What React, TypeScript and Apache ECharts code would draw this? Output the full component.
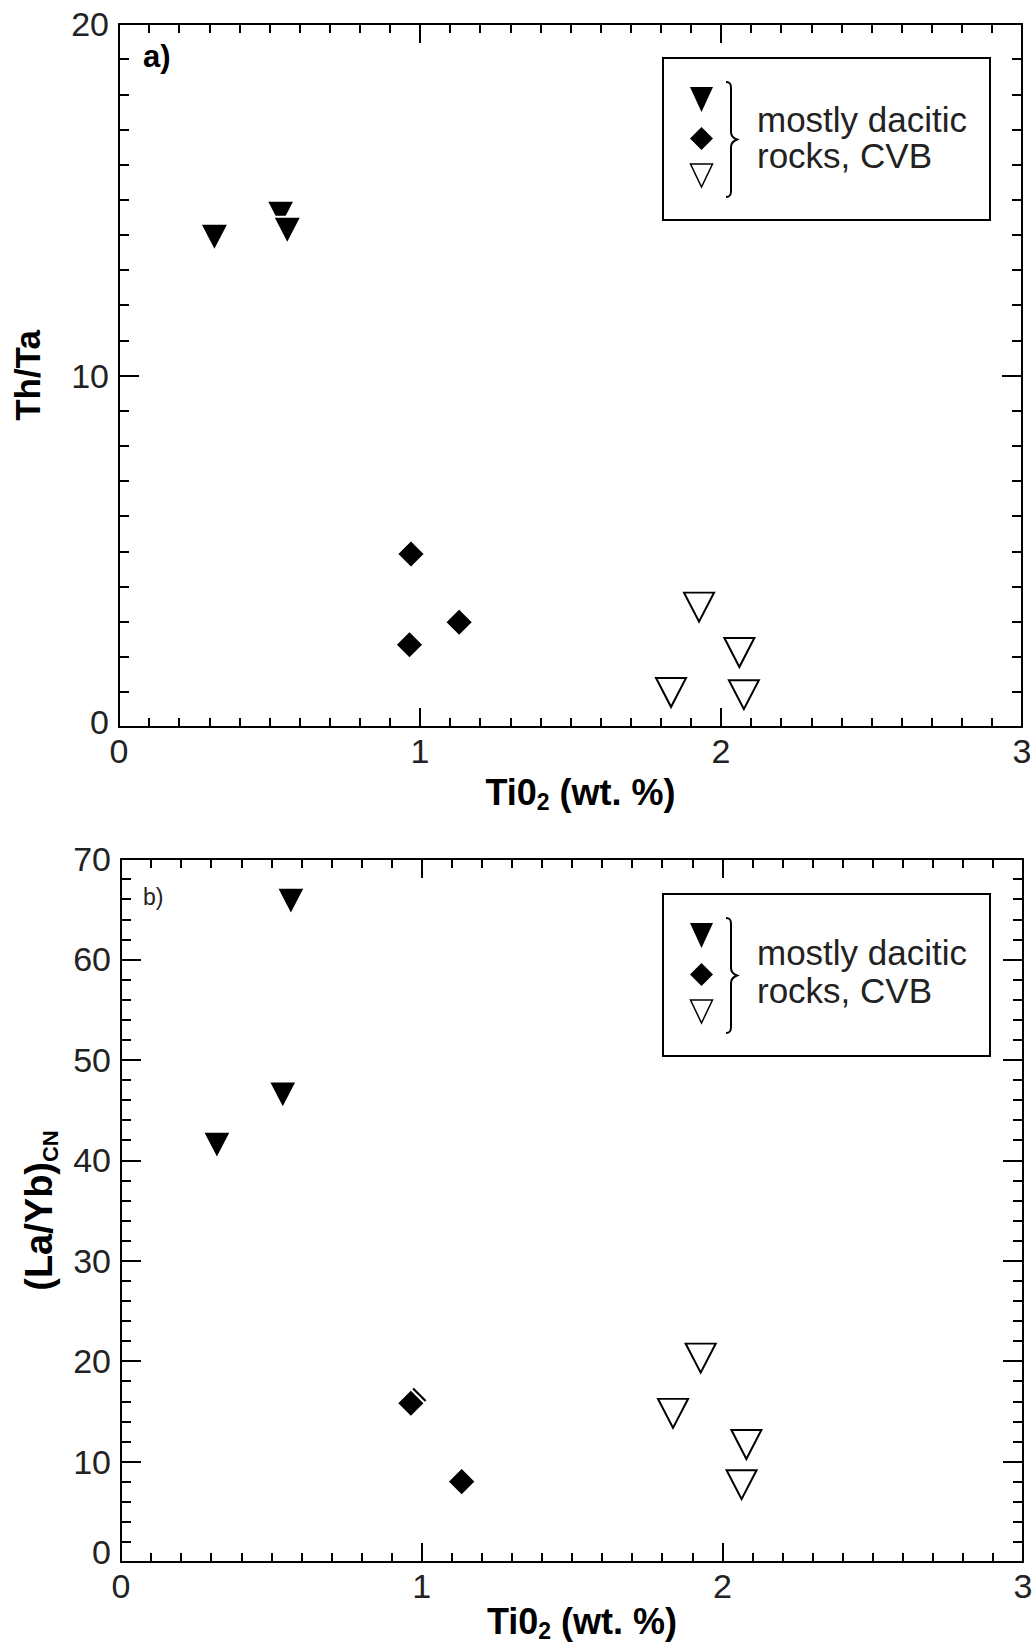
import React, { useEffect, useRef } from "react";
import * as echarts from "echarts";

const FONT = '"Liberation Sans", Arial, Helvetica, sans-serif';

// ---- Panel a): Th/Ta vs TiO2 ----
const thTaFilledTriangles = [[0.317, 13.93], [0.537, 14.59], [0.559, 14.13]];
const thTaDiamonds = [[0.970, 4.92], [0.965, 2.34], [1.130, 2.98]];
const thTaOpenTriangles = [[1.927, 3.41], [2.061, 2.12], [1.834, 0.98], [2.076, 0.92]];

// ---- Panel b): (La/Yb)CN vs TiO2 ----
const laYbFilledTriangles = [[0.565, 65.8], [0.538, 46.5], [0.319, 41.5]];
const laYbDiamonds = [[0.974, 16.1], [0.964, 15.8], [1.133, 8.0]];
const laYbOpenTriangles = [[1.928, 20.3], [1.836, 14.8], [2.080, 11.7], [2.064, 7.7]];

// ---- axes / texts ----
const xRange = [0, 3];
const xStep = 1;
const yRangeA = [0, 20];
const yRangeB = [0, 70];
const yStep = 10;
const legendLines = ["mostly dacitic", "rocks, CVB"];
const panelLabels = ["a)", "b)"];
const seriesNames = ["filled triangles", "filled diamonds", "open triangles"];

echarts.graphic.registerShape(
  "brace",
  echarts.graphic.extendPath(
    "M0,0 C4,0 5,2 5,6 L5,50 C5,54 7,56 11,57.5 C7,59 5,61 5,65 L5,109 C5,113 4,115 0,115",
    {}
  )
);

const LINE = { color: "#000", width: 2 };
const TICK_FONT = 34;

function xAxes(gridIndex: number, nameGap: number) {
  const common = {
    gridIndex,
    type: "value",
    min: xRange[0],
    max: xRange[1],
    interval: xStep,
    splitLine: { show: false },
    minorSplitLine: { show: false },
    axisLine: { show: true, onZero: false, lineStyle: LINE },
    axisTick: { show: true, inside: true, length: 19, lineStyle: LINE },
    minorTick: { show: true, splitNumber: 10, length: 9, lineStyle: LINE },
  };
  return [
    {
      ...common,
      position: "bottom",
      axisLabel: { show: true, margin: 7, fontSize: TICK_FONT, color: "#222", fontFamily: FONT },
      name: "{t|Ti0}{s|2}{t| (wt. %)}",
      nameLocation: "middle",
      nameGap,
      nameMoveOverlap: false,
      nameTextStyle: {
        padding: [0, 0, 0, 20],
        rich: {
          t: { fontSize: 36, fontWeight: "bold", fontFamily: FONT, color: "#000", lineHeight: 42 },
          s: { fontSize: 23, fontWeight: "bold", fontFamily: FONT, color: "#000", lineHeight: 23, verticalAlign: "bottom" },
        },
      },
    },
    { ...common, position: "top", axisLabel: { show: false } },
  ];
}

function yAxes(
  gridIndex: number,
  range: number[],
  minorSplit: number,
  name: string,
  nameGap: number,
  zeroLift: number,
  nameFont: number
) {
  const common = {
    gridIndex,
    type: "value",
    min: range[0],
    max: range[1],
    interval: yStep,
    splitLine: { show: false },
    minorSplitLine: { show: false },
    axisLine: { show: true, onZero: false, lineStyle: LINE },
    axisTick: { show: true, inside: true, length: 20, lineStyle: LINE },
    minorTick: { show: true, splitNumber: minorSplit, length: 10, lineStyle: LINE },
  };
  return [
    {
      ...common,
      position: "left",
      axisLabel: {
        show: true,
        margin: 10,
        fontSize: TICK_FONT,
        color: "#222",
        fontFamily: FONT,
        formatter: (v: number) => (v === 0 ? "{z|0}" : String(v)),
        rich: { z: { fontSize: TICK_FONT, color: "#222", fontFamily: FONT, padding: [0, 0, zeroLift * 2, 0] } },
      },
      name,
      nameLocation: "middle",
      nameRotate: 90,
      nameGap,
      nameMoveOverlap: false,
      nameTextStyle: {
        rich: {
          t: { fontSize: nameFont, fontWeight: "bold", fontFamily: FONT, color: "#000", lineHeight: nameFont + 6 },
          s: { fontSize: 22, fontWeight: "bold", fontFamily: FONT, color: "#000", lineHeight: 26, verticalAlign: "bottom" },
        },
      },
    },
    { ...common, position: "right", axisLabel: { show: false } },
  ];
}

function scatterSeries(xi: number, yi: number, filledTri: number[][], diamonds: number[][], openTri: number[][]) {
  return [
    {
      name: seriesNames[0],
      type: "scatter",
      xAxisIndex: xi,
      yAxisIndex: yi,
      data: filledTri,
      symbol: "triangle",
      symbolRotate: 180,
      symbolSize: [28, 27],
      itemStyle: { color: "#000", borderColor: "#fff", borderWidth: 2, opacity: 1 },
      z: 5,
    },
    {
      name: seriesNames[1],
      type: "scatter",
      xAxisIndex: xi,
      yAxisIndex: yi,
      data: diamonds,
      symbol: "diamond",
      symbolSize: [28, 28],
      itemStyle: { color: "#000", borderColor: "#fff", borderWidth: 2, opacity: 1 },
      z: 5,
    },
    {
      name: seriesNames[2],
      type: "scatter",
      xAxisIndex: xi,
      yAxisIndex: yi,
      data: openTri,
      symbol: "triangle",
      symbolRotate: 180,
      symbolSize: [30, 29],
      itemStyle: { color: "#fff", borderColor: "#000", borderWidth: 2, opacity: 1 },
      z: 5,
    },
  ];
}

function legendGraphics(boxTop: number, base1: number, base2: number) {
  const cx = 701.5;
  const fs = 35;
  const mid = 0.3465 * fs;
  return [
    { type: "rect", shape: { x: 663, y: boxTop, width: 327, height: 162 }, style: { fill: "#fff", stroke: "#000", lineWidth: 2 }, z: 10 },
    { type: "polygon", shape: { points: [[cx - 11.5, boxTop + 29], [cx + 11.5, boxTop + 29], [cx, boxTop + 54]] }, style: { fill: "#000" }, z: 11 },
    { type: "polygon", shape: { points: [[cx, boxTop + 69], [cx + 11.5, boxTop + 80.5], [cx, boxTop + 92], [cx - 11.5, boxTop + 80.5]] }, style: { fill: "#000" }, z: 11 },
    { type: "polygon", shape: { points: [[cx - 11, boxTop + 106], [cx + 11, boxTop + 106], [cx, boxTop + 129]] }, style: { fill: "#fff", stroke: "#000", lineWidth: 1.5 }, z: 11 },
    { type: "brace", x: 726, y: boxTop + 24, style: { fill: "none", stroke: "#000", lineWidth: 2 }, z: 11 },
    {
      type: "text", x: 757, y: base1 - mid, z: 11,
      style: { text: legendLines[0], fontSize: fs, fontFamily: FONT, fill: "#222", textAlign: "left", align: "left", textVerticalAlign: "middle", verticalAlign: "middle" },
    },
    {
      type: "text", x: 757, y: base2 - mid, z: 11,
      style: { text: legendLines[1], fontSize: fs, fontFamily: FONT, fill: "#222", textAlign: "left", align: "left", textVerticalAlign: "middle", verticalAlign: "middle" },
    },
  ];
}

export default function App() {
  const ref = useRef<HTMLDivElement>(null);

  useEffect(() => {
    if (!ref.current) return;
    const chart = echarts.init(ref.current, undefined, { renderer: "svg" });
    const option = {
      animation: false,
      backgroundColor: "#fff",
      grid: [
        { left: 119, right: 14, top: 24, height: 703, containLabel: false, outerBoundsMode: "none" },
        { left: 121, right: 13, top: 859, height: 703, containLabel: false, outerBoundsMode: "none" },
      ],
      xAxis: [...xAxes(0, 44), ...xAxes(1, 38)],
      yAxis: [
        ...yAxes(0, yRangeA, 10, "{t|Th/Ta}", 71, 5, 35),
        ...yAxes(1, yRangeB, 5, "{t|(La/Yb)}{s|CN}", 60, 10, 38),
      ],
      series: [
        ...scatterSeries(0, 0, thTaFilledTriangles, thTaDiamonds, thTaOpenTriangles),
        ...scatterSeries(2, 2, laYbFilledTriangles, laYbDiamonds, laYbOpenTriangles),
      ],
      graphic: {
        elements: [
          ...legendGraphics(58, 132, 168),
          ...legendGraphics(894, 965, 1003),
          {
            type: "text", x: 143, y: 67 - 0.3465 * 31, z: 11,
            style: { text: panelLabels[0], fontSize: 31, fontWeight: "bold", fontFamily: FONT, fill: "#000", textVerticalAlign: "middle", verticalAlign: "middle" },
          },
          {
            type: "text", x: 143, y: 905 - 0.3465 * 23, z: 11,
            style: { text: panelLabels[1], fontSize: 23, fontFamily: FONT, fill: "#222", textVerticalAlign: "middle", verticalAlign: "middle" },
          },
        ],
      },
    };
    chart.setOption(option as any);
    return () => chart.dispose();
  }, []);

  return (
    <div
      ref={ref}
      style={{ position: "absolute", left: 0, top: 0, width: 1036, height: 1647, background: "#fff" }}
    />
  );
}
